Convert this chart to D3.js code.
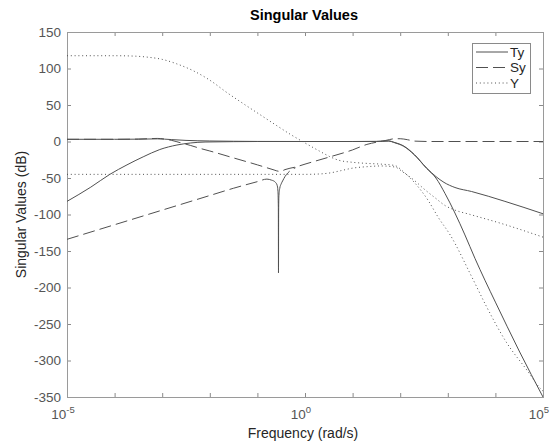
<!DOCTYPE html>
<html>
<head>
<meta charset="utf-8">
<script src="https://cdn.jsdelivr.net/npm/d3@7/dist/d3.min.js"></script>
<style>
  body { margin: 0; background: #fff; }
  svg { display: block; font-family: 'Liberation Sans', Arial, Helvetica, sans-serif; }
</style>
</head>
<body>
<svg id="chart" width="552" height="443"></svg>
<script>
// every point is [log10 of frequency in rad/s, singular value in dB]
const tyHigh = [[-5, 3], [-4, 3], [-3.5, 3.2], [-3.1, 3.6], [-2.8, 2.6], [-2.5, 1.5], [-2, 0.7], [-1.5, 0.3],
    [-1, 0.1], [0, 0], [1, 0], [1.5, 0.2], [1.75, 0.8], [1.89, -1.5], [2.07, -6], [2.3, -18], [2.55, -36],
    [2.75, -48], [2.92, -56], [3.15, -63], [3.5, -68.5], [4.2, -82], [5, -99]];
const tyLow = [[-5, -82], [-4.5, -62.5], [-4.1, -45], [-3.74, -32], [-3.4, -21], [-3.05, -11], [-2.69, -4.8],
    [-2.4, -2], [-2.1, -0.7], [-1.5, -0.2], [-1, 0], [1, 0], [1.5, 0], [1.75, 0.6], [1.89, -1.8], [2.07, -6.5],
    [2.3, -18.5], [2.55, -36.5], [2.75, -50], [2.94, -71], [3.15, -98], [3.36, -128], [3.57, -160], [3.78, -190],
    [4, -220], [4.5, -287], [5, -350]];

const syHigh = [[-5, 3], [-4, 3], [-3.5, 3.3], [-3.1, 4.2], [-2.8, 1.5], [-2.6, -2], [-2.4, -5.5], [-2.2, -9.5],
    [-2, -13], [-1.5, -22.5], [-1, -32], [-0.8, -36], [-0.65, -39], [-0.55, -40.8], [-0.48, -40.2], [-0.42, -38.5],
    [-0.2, -35], [0, -31], [0.5, -21.5], [1, -11.5], [1.3, -4], [1.5, -1], [1.7, 1.5], [1.89, 3.8], [2, 3.8],
    [2.15, 2.5], [2.31, 0.5], [2.6, 0], [3, 0], [4, 0], [5, 0]];
const syLow = [[-5, -134], [-4, -114], [-3, -94], [-2, -74], [-1.5, -64], [-1, -55], [-0.8, -51.5], [-0.7, -53]];
// the notch near 0.28 rad/s renders as a continuous stroke in the original
const syLowNotch = [[-0.7, -53], [-0.62, -56], [-0.585, -60], [-0.568, -68], [-0.56, -90], [-0.557, -180],
    [-0.554, -95], [-0.548, -74], [-0.53, -64], [-0.5, -58], [-0.47, -54]];
const syLowRise = [[-0.47, -54], [-0.42, -48], [-0.36, -43], [-0.28, -38.5], [-0.2, -36]];

const yHigh = [[-5, 117.5], [-4, 117.5], [-3.6, 117], [-3.3, 115.5], [-3, 112.5], [-2.7, 106.5], [-2.35, 97],
    [-2, 84], [-1.64, 67], [-1.3, 52], [-0.95, 37], [-0.6, 22], [-0.3, 9.5], [0, -2], [0.3, -13], [0.53, -21],
    [0.7, -25.5], [1, -28.5], [1.3, -30], [1.6, -31], [1.89, -33], [2.06, -41], [2.31, -57], [2.59, -81],
    [2.8, -104], [3.05, -128], [3.5, -185], [3.82, -227], [4.24, -276], [4.66, -313], [4.94, -338], [5, -342]];
const yLow = [[-5, -45], [-1, -45], [0, -45], [0.3, -44.5], [0.53, -43], [0.75, -40], [1, -36.5], [1.3, -34.5],
    [1.6, -33.5], [1.89, -35], [2.06, -42], [2.31, -54], [2.5, -65], [2.73, -77], [2.95, -88], [3.15, -94],
    [3.47, -100], [4.16, -113], [5, -131]];

const legendNames = ['Ty', 'Sy', 'Y'];
const xDecades = [-5, -4, -3, -2, -1, 0, 1, 2, 3, 4, 5];
const xLabelExps = [-5, 0, 5];
const yTicks = [150, 100, 50, 0, -50, -100, -150, -200, -250, -300, -350];

const width = 552, height = 443;
const plot = {left: 67, top: 32, right: 543, bottom: 397};
const ink = '#505050';
const styles = {solid: null, dashed: '12,5', dotted: '1,2.8'};

const svg = d3.select('#chart');

const x = d3.scaleLog().domain([1e-5, 1e5]).range([plot.left, plot.right]);
const y = d3.scaleLinear().domain([-350, 150]).range([plot.bottom, plot.top]);

svg.append('rect').attr('width', width).attr('height', height).attr('fill', '#fff');

svg.append('defs').append('clipPath').attr('id', 'plotClip')
    .append('rect')
    .attr('x', plot.left).attr('y', plot.top)
    .attr('width', plot.right - plot.left).attr('height', plot.bottom - plot.top);

// ticks point inward, like the original
const tickVals = xDecades.map((e) => Math.pow(10, e));
const axisStyle = (g) => {
    g.select('.domain').remove();
    g.selectAll('line').attr('stroke', '#8a8a8a');
    g.selectAll('text').attr('fill', '#555').attr('font-size', 13.5);
};

svg.append('g').attr('transform', `translate(0,${plot.bottom})`)
    .call(d3.axisBottom(x).tickValues(tickVals).tickSize(-4).tickFormat(''))
    .call(axisStyle);
svg.append('g').attr('transform', `translate(0,${plot.top})`)
    .call(d3.axisTop(x).tickValues(tickVals).tickSize(-4).tickFormat(''))
    .call(axisStyle);
svg.append('g').attr('transform', `translate(${plot.left},0)`)
    .call(d3.axisLeft(y).tickValues(yTicks).tickSize(-4).tickPadding(6).tickFormat((d) => String(d)))
    .call(axisStyle);
svg.append('g').attr('transform', `translate(${plot.right},0)`)
    .call(d3.axisRight(y).tickValues(yTicks).tickSize(-4).tickFormat(''))
    .call(axisStyle);

// power-of-ten labels
const xLabels = svg.append('g').selectAll('text').data(xLabelExps).enter().append('text')
    .attr('x', (e) => x(Math.pow(10, e)) - 4)
    .attr('y', 419)
    .attr('text-anchor', 'middle')
    .attr('fill', '#555')
    .attr('font-size', 13.5);
xLabels.append('tspan').text('10');
xLabels.append('tspan').attr('dy', -6).attr('font-size', 9.5).text((e) => String(e));

svg.append('rect')
    .attr('x', plot.left + 0.5).attr('y', plot.top + 0.5)
    .attr('width', plot.right - plot.left).attr('height', plot.bottom - plot.top)
    .attr('fill', 'none').attr('stroke', '#9a9a9a').attr('stroke-width', 1);

const line = d3.line()
    .x((d) => x(Math.pow(10, d[0])))
    .y((d) => y(d[1]))
    .curve(d3.curveMonotoneX);

const curves = [
    {data: tyHigh, dash: styles.solid},
    {data: tyLow, dash: styles.solid},
    {data: syHigh, dash: styles.dashed},
    {data: syLow, dash: styles.dashed},
    {data: syLowNotch, dash: styles.solid},
    {data: syLowRise, dash: styles.dashed},
    {data: yHigh, dash: styles.dotted},
    {data: yLow, dash: styles.dotted}
];

svg.append('g').attr('clip-path', 'url(#plotClip)')
    .selectAll('path').data(curves).enter().append('path')
    .attr('d', (c) => line(c.data))
    .attr('fill', 'none')
    .attr('stroke', ink)
    .attr('stroke-width', 1)
    .attr('stroke-dasharray', (c) => c.dash);

// titles
svg.append('text').attr('x', 304).attr('y', 20).attr('text-anchor', 'middle')
    .attr('font-size', 14.5).attr('font-weight', 'bold').attr('fill', '#000')
    .text('Singular Values');
svg.append('text').attr('x', 303).attr('y', 438).attr('text-anchor', 'middle')
    .attr('font-size', 14).attr('fill', '#262626')
    .text('Frequency (rad/s)');
svg.append('text').attr('transform', `translate(26,${(plot.top + plot.bottom) / 2}) rotate(-90)`)
    .attr('text-anchor', 'middle').attr('font-size', 14).attr('fill', '#262626')
    .text('Singular Values (dB)');

// legend
const legend = svg.append('g').attr('transform', 'translate(472,43)');
legend.append('rect').attr('x', 0.5).attr('y', 0.5).attr('width', 58).attr('height', 50)
    .attr('fill', '#fff').attr('stroke', '#8a8a8a');
const legendDash = [styles.solid, styles.dashed, styles.dotted];
const rows = legend.selectAll('g.row').data(legendNames).enter().append('g')
    .attr('class', 'row')
    .attr('transform', (d, i) => `translate(0,${9 + i * 15.5})`);
rows.append('line').attr('x1', 4).attr('x2', 36).attr('y1', 0).attr('y2', 0)
    .attr('stroke', ink).attr('stroke-dasharray', (d, i) => legendDash[i]);
rows.append('text').attr('x', 38).attr('y', 0).attr('dy', '0.36em')
    .attr('font-size', 13.5).attr('fill', '#262626')
    .text((d) => d);
</script>
</body>
</html>
